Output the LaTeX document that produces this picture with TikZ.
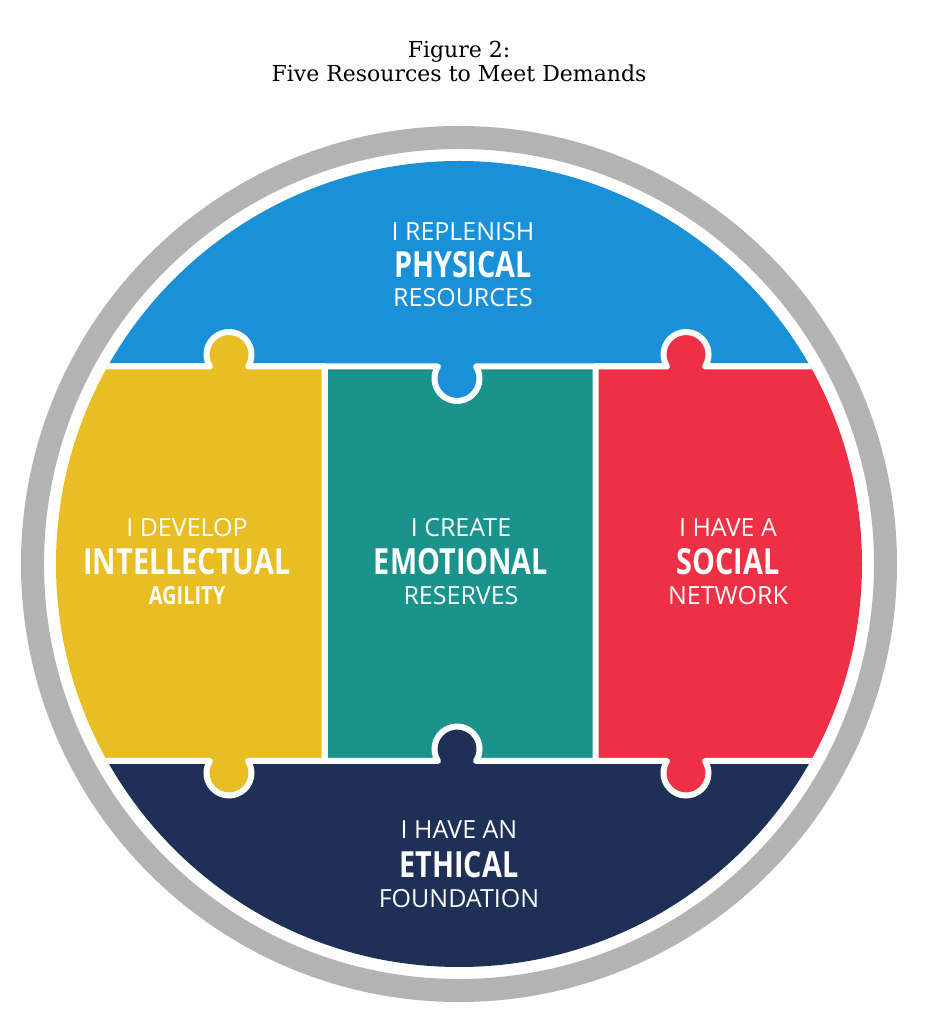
\documentclass[tikz,border=0pt]{standalone}
\usepackage{fontspec}
\usepackage{tikz}
\usetikzlibrary{positioning}
\newfontfamily\titlefont{DejaVu Serif}
\newfontfamily\panelfont{Open Sans}
\newfontfamily\panelbold{Open Sans}[FakeStretch=0.8]
\definecolor{physblue}{RGB}{26,144,217}
\definecolor{intelyellow}{RGB}{233,189,36}
\definecolor{emoteal}{RGB}{25,147,140}
\definecolor{socialred}{RGB}{238,48,70}
\definecolor{ethicnavy}{RGB}{31,48,87}
\definecolor{ringgray}{RGB}{179,179,179}
% puzzle knobs: bump up (left to right) and bump down (right to left)
\newcommand{\knobup}[2]{-- (#1-19.03,#2) arc[start angle=212.2, end angle=-32.2, radius=22.5]}
\newcommand{\knobdown}[2]{-- (#1+19.03,#2) arc[start angle=32.2, end angle=-212.2, radius=22.5]}

\begin{document}
\begin{tikzpicture}[
  x=0.5pt, y=0.5pt,
  piece/.style={fill=#1, draw=white, line width=3pt, line join=round},
  lead/.style={text=white, inner sep=0pt, anchor=base, font=\panelfont\fontsize{12.5}{14}\selectfont},
  key/.style={text=white, inner sep=0pt, anchor=base, font=\panelbold\bfseries\fontsize{18}{20}\selectfont},
  keysmall/.style={key, font=\panelbold\bfseries\fontsize{12.5}{14}\selectfont},
  titletext/.style={inner sep=0pt, anchor=base, font=\titlefont\fontsize{11}{13}\selectfont}
]
\fill[white] (-459,-457) rectangle (469,564);
\useasboundingbox (-459,-457) rectangle (469,564);

\draw[ringgray, line width=11.5pt] (0,0) circle[radius=426.5];

\begin{scope}
\clip (0,0) circle[radius=403];
\draw[piece=emoteal] (-134.5,-197) rectangle (136.5,197.5);
\draw[piece=physblue] (-500,500) -- (500,500) -- (500,197.5) \knobdown{-2}{197.5} -- (-500,197.5) -- cycle;
\draw[piece=ethicnavy] (-500,-197) \knobup{-2}{-197} -- (500,-197) -- (500,-500) -- (-500,-500) -- cycle;
\draw[piece=intelyellow] (-500,-197) -- (-500,197.5) \knobup{-230}{197.5} -- (-134.5,197.5)
  -- (-134.5,-197) \knobdown{-230}{-197} -- cycle;
\draw[piece=socialred] (136.5,-197) -- (136.5,197.5) \knobup{227}{197.5} -- (500,197.5)
  -- (500,-197) \knobdown{227}{-197} -- cycle;
\end{scope}

\node[key] (physical) at (4,286) {PHYSICAL};
\node[lead, above=18.5pt of physical.base, anchor=base] (replenish) {I REPLENISH};
\node[lead, below=14.5pt of physical.base, anchor=base] (resources) {RESOURCES};

\node[key] (intellectual) at (-272,-11) {INTELLECTUAL};
\node[lead, above=19pt of intellectual.base, anchor=base] (develop) {I DEVELOP};
\node[keysmall, below=15pt of intellectual.base, anchor=base] (agility) {AGILITY};

\node[key] (emotional) at (2,-11) {EMOTIONAL};
\node[lead, above=19pt of emotional.base, anchor=base] (create) {I CREATE};
\node[lead, below=15pt of emotional.base, anchor=base] (reserves) {RESERVES};

\node[key] (social) at (269,-11) {SOCIAL};
\node[lead, above=19pt of social.base, anchor=base] (havea) {I HAVE A};
\node[lead, below=15pt of social.base, anchor=base] (network) {NETWORK};

\node[key] (ethical) at (0,-313) {ETHICAL};
\node[lead, above=19.5pt of ethical.base, anchor=base] (havean) {I HAVE AN};
\node[lead, below=15pt of ethical.base, anchor=base] (foundation) {FOUNDATION};

\node[titletext] (figno) at (0,506.5) {Figure 2:};
\node[titletext, below=12.25pt of figno.base, anchor=base] (figtitle) {Five Resources to Meet Demands};
\end{tikzpicture}
\end{document}
